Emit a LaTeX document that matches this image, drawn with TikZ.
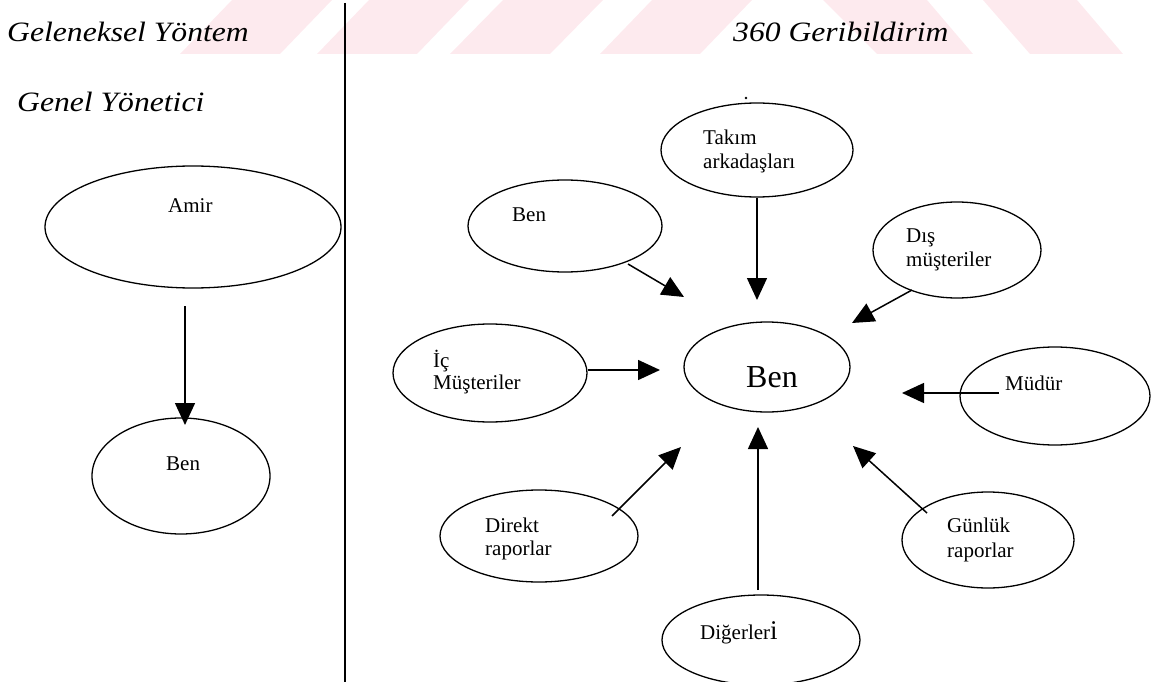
\documentclass[tikz,border=0pt]{standalone}
\usepackage{fontspec}
\setmainfont{Liberation Serif}
\newfontfamily\titlefont[FakeStretch=1.13]{Liberation Serif}
\usetikzlibrary{shapes.geometric,arrows.meta}
\definecolor{wm}{RGB}{253,234,238}
\begin{document}
\begin{tikzpicture}[x=1pt,y=-1pt,
  oval/.style={draw,ellipse,line width=1.3pt,inner sep=0pt},
  lbl/.style={anchor=base west,inner sep=0pt,font=\fontsize{21}{23}\selectfont},
  ttl/.style={anchor=base west,inner sep=0pt,font=\titlefont\itshape\fontsize{28}{30}\selectfont},
  arr/.style={line width=1.5pt,-{Triangle[length=22pt,width=20pt]}},
  wmark/.style={fill=wm,draw=none}]
\useasboundingbox (0,0) rectangle (1152,682);
% watermark stripes
\fill[wmark] (180,54) -- (280,54) -- (332,0) -- (232,0) -- cycle;
\fill[wmark] (317,54) -- (417,54) -- (469,0) -- (369,0) -- cycle;
\fill[wmark] (450,54) -- (550,54) -- (603,0) -- (503,0) -- cycle;
\fill[wmark] (600,54) -- (700,54) -- (752,0) -- (652,0) -- cycle;
\fill[wmark] (823,0) -- (927,0) -- (973,54) -- (877,54) -- cycle;
\fill[wmark] (983,0) -- (1077,0) -- (1123,54) -- (1030,54) -- cycle;
% divider
\coordinate (divtop) at (345,3);
\coordinate (divbot) at (345,682);
\draw[line width=1.3pt] (divtop) -- (divbot);
% titles
\node[ttl] (tgel) at (7,42) {Geleneksel Yöntem};
\node[ttl] (tgen) at (17,112) {Genel Yönetici};
\node[ttl] (t360) at (733,42) {360 Geribildirim};
\fill (746,98) circle (1.3);
% left side
\node[oval,minimum width=296pt,minimum height=122pt] (amir) at (193,227) {};
\node[lbl] (tamir) at (168,212) {Amir};
\node[oval,minimum width=178pt,minimum height=116pt] (benL) at (181,476) {};
\node[lbl] (tbenL) at (166,470) {Ben};
\coordinate (a1s) at (185,306); \coordinate (a1e) at (185,425);
\draw[arr] (a1s) -- (a1e);
% right side ellipses
\node[oval,minimum width=166pt,minimum height=90pt] (ben) at (767,367) {};
\node[anchor=base,inner sep=0pt,font=\fontsize{32}{34}\selectfont] (tben) at (772,387) {Ben};
\node[oval,minimum width=194pt,minimum height=92pt] (benTL) at (565,226) {};
\node[lbl] (tbenTL) at (512,222) {Ben};
\node[oval,minimum width=192pt,minimum height=94pt] (takim) at (757,150) {};
\node[lbl] (ttakim1) at (703,145) {Takım};
\node[lbl] (ttakim2) at (703,168) {arkadaşları};
\node[oval,minimum width=168pt,minimum height=96pt] (dis) at (957,250) {};
\node[lbl] (tdis1) at (906,242) {Dış};
\node[lbl] (tdis2) at (906,266) {müşteriler};
\node[oval,minimum width=194pt,minimum height=98pt] (ic) at (490,373) {};
\node[lbl] (tic1) at (433,367) {İç};
\node[lbl] (tic2) at (433,389) {Müşteriler};
\node[oval,minimum width=190pt,minimum height=98pt] (mudur) at (1055,396) {};
\node[lbl] (tmudur) at (1005,390) {Müdür};
\node[oval,minimum width=198pt,minimum height=92pt] (direkt) at (539,536) {};
\node[lbl] (tdirekt1) at (485,532) {Direkt};
\node[lbl] (tdirekt2) at (485,555) {raporlar};
\node[oval,minimum width=198pt,minimum height=90pt] (diger) at (761,640) {};
\node[lbl] (tdiger) at (700,639) {Diğerler{\fontsize{27}{27}\selectfont i}};
\node[oval,minimum width=172pt,minimum height=96pt] (gunluk) at (988,540) {};
\node[lbl] (tgunluk1) at (947,532) {Günlük};
\node[lbl] (tgunluk2) at (947,557) {raporlar};
% arrows
\coordinate (b1s) at (757,198); \coordinate (b1e) at (757,300);
\coordinate (b2s) at (628,264); \coordinate (b2e) at (684,297);
\coordinate (b3s) at (912,290); \coordinate (b3e) at (852,323);
\coordinate (b4s) at (588,370); \coordinate (b4e) at (660,370);
\coordinate (b5s) at (999,393); \coordinate (b5e) at (902,393);
\coordinate (b6s) at (612,516); \coordinate (b6e) at (681,447);
\coordinate (b7s) at (758,590); \coordinate (b7e) at (758,427);
\coordinate (b8s) at (927,513); \coordinate (b8e) at (853,446);
\draw[arr] (b1s) -- (b1e);
\draw[arr] (b2s) -- (b2e);
\draw[arr] (b3s) -- (b3e);
\draw[arr] (b4s) -- (b4e);
\draw[arr] (b5s) -- (b5e);
\draw[arr] (b6s) -- (b6e);
\draw[arr] (b7s) -- (b7e);
\draw[arr] (b8s) -- (b8e);
\end{tikzpicture}
\end{document}
